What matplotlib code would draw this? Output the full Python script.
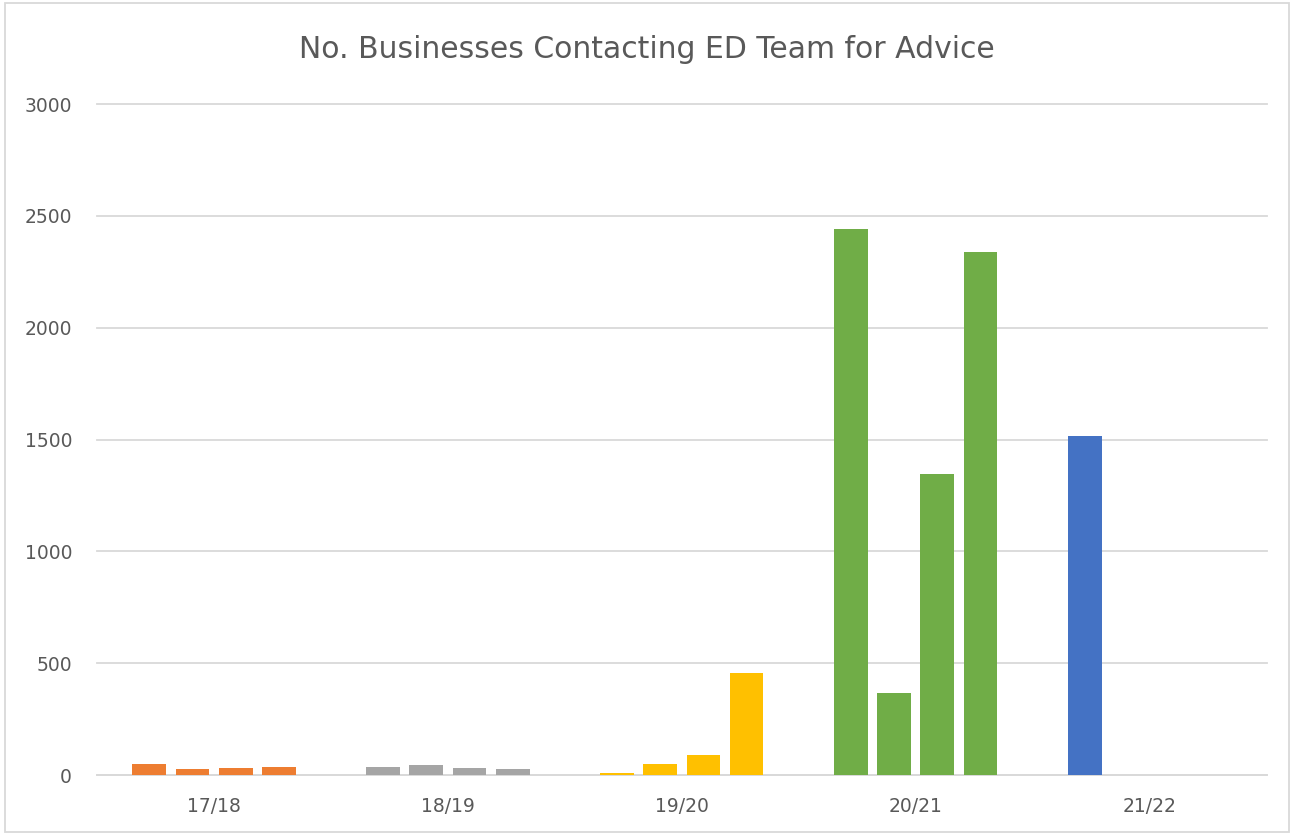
import matplotlib.pyplot as plt
import numpy as np

years = ["17/18", "18/19", "19/20", "20/21", "21/22"]
# quarterly counts per year (Q1..Q4), None = no data
q_values = [
    [49, 27, 31, 36],
    [36, 45, 31, 27],
    [9, 49, 89, 456],
    [2441, 367, 1346, 2338],
    [1516, None, None, None],
]
year_colors = ["#ED7D31", "#A5A5A5", "#FFC000", "#70AD47", "#4472C4"]
y_ticks = [0, 500, 1000, 1500, 2000, 2500, 3000]

fig = plt.figure(figsize=(12.94, 8.34), dpi=100)
ax = fig.add_axes([0.075, 0.0707, 0.904, 0.8045])

step = 0.184
width = 0.145
for i, vals in enumerate(q_values):
    for j, v in enumerate(vals):
        if v is None:
            continue
        ax.bar(i + (j - 1.5) * step, v, width=width, color=year_colors[i], zorder=3)

ax.set_xlim(-0.5, len(years) - 0.5)
ax.set_ylim(0, 3000)
ax.set_xticks(range(len(years)))
ax.set_xticklabels(years)
ax.set_yticks(y_ticks)

ax.grid(axis="y", color="#D9D9D9", linewidth=1.3, zorder=0, clip_on=False)
for s in ["top", "right", "left"]:
    ax.spines[s].set_visible(False)
ax.spines["bottom"].set_color("#D9D9D9")
ax.spines["bottom"].set_linewidth(1.3)
ax.tick_params(length=0, labelsize=13.5, colors="#595959")
ax.tick_params(axis="x", pad=16)
ax.tick_params(axis="y", pad=18)

fig.suptitle("No. Businesses Contacting ED Team for Advice", y=0.958,
             fontsize=21.5, color="#595959")

# chart border
fig.patches.append(plt.Rectangle((0.004, 0.002), 0.992, 0.994, transform=fig.transFigure,
                                 fill=False, edgecolor="#D9D9D9", linewidth=1.3))

plt.savefig("out.png", dpi=100)
